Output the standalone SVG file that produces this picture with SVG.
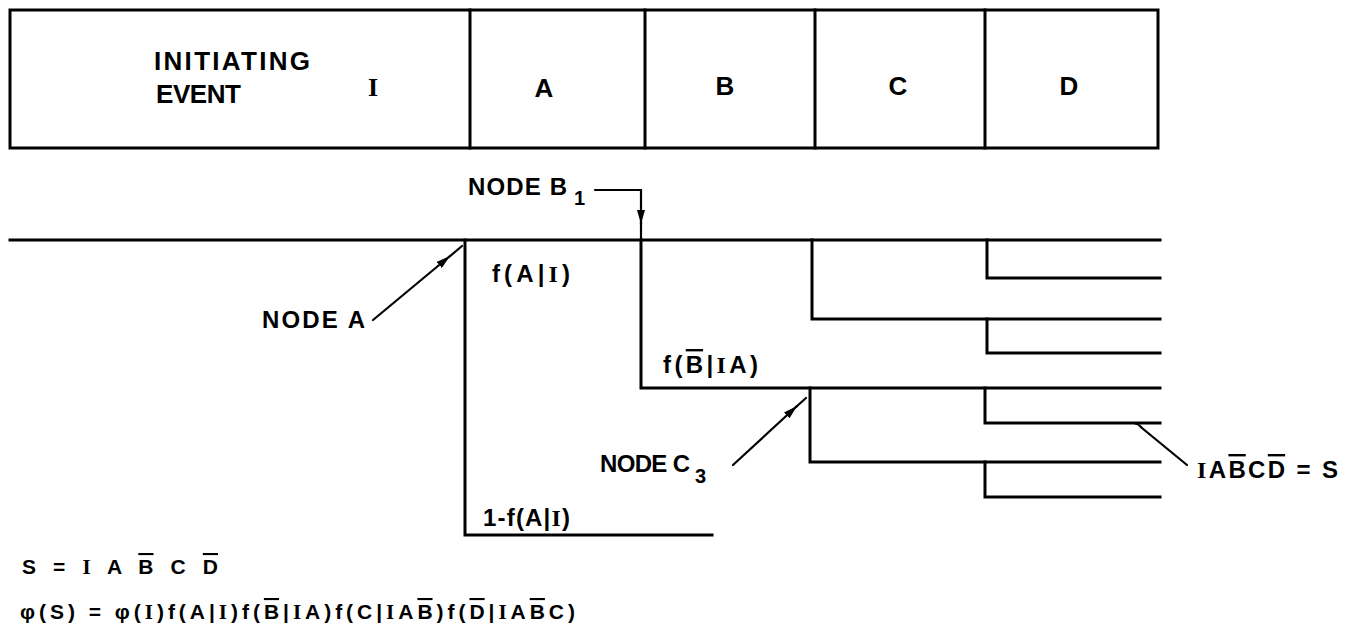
<svg xmlns="http://www.w3.org/2000/svg" width="1358" height="643" viewBox="0 0 1358 643">
<defs>
<style>
text{font-family:"Liberation Sans",Arial,sans-serif;font-weight:bold;fill:#000}
.h{font-size:26px}
.n{font-size:24px}
.sub{font-size:20px}
.f{font-size:24px}
.eq1{font-size:21px}
.eq{font-size:21px}
.ser{font-family:"Liberation Serif","Times New Roman",serif}
.ov{text-decoration:overline}
.ln{fill:none;stroke:#000;stroke-width:3;stroke-linecap:square;stroke-linejoin:miter}
.ld{fill:none;stroke:#000;stroke-width:2.2;stroke-linecap:round}
</style>
<marker id="ah" viewBox="0 0 14 8" refX="14" refY="4" markerWidth="14" markerHeight="8" orient="auto" markerUnits="userSpaceOnUse">
<path d="M0,0 L14,4 L0,8 z" fill="#000"/>
</marker>
</defs>
<rect width="1358" height="643" fill="#fff"/>

<g id="header">
<rect class="ln" x="10" y="10" width="1148" height="138"/>
<path class="ln" d="M470,10 V148 M645,10 V148 M815,10 V148 M985,10 V148"/>
<text class="h" x="154" y="70" textLength="156" lengthAdjust="spacing">INITIATING</text>
<text class="h" x="156" y="103" textLength="85" lengthAdjust="spacing">EVENT</text>
<text class="h ser" x="373" y="96" text-anchor="middle" font-size="29">I</text>
<text class="h" x="544" y="97" text-anchor="middle">A</text>
<text class="h" x="725" y="95" text-anchor="middle">B</text>
<text class="h" x="898" y="95" text-anchor="middle">C</text>
<text class="h" x="1069" y="95" text-anchor="middle">D</text>
</g>

<g id="connectors">
<path class="ln" d="M10,240 H1160"/>
<path class="ln" d="M465,240 V535 H712"/>
<path class="ln" d="M641,240 V388 H1160"/>
<path class="ln" d="M812,240 V319 H1160"/>
<path class="ln" d="M987,240 V278 H1160"/>
<path class="ln" d="M987,319 V353 H1160"/>
<path class="ln" d="M810,388 V462 H1160"/>
<path class="ln" d="M985,388 V423 H1160"/>
<path class="ln" d="M985,462 V497 H1160"/>
</g>

<g id="node-a">
<text class="n" x="262" y="328" textLength="103" lengthAdjust="spacing">NODE A</text>
<path class="ld" d="M373,320 L450,256" marker-end="url(#ah)"/>
<path class="ld" d="M449,257 L462,246"/>
</g>

<g id="node-b1">
<text class="n" x="468" y="195" textLength="99" lengthAdjust="spacing">NODE B</text>
<text class="sub" x="574" y="205">1</text>
<path class="ld" d="M595,190 H641 V224" marker-end="url(#ah)"/>
<path class="ld" d="M641,222 V240"/>
</g>

<g id="node-c3">
<text class="n" x="600" y="472" textLength="90" lengthAdjust="spacing">NODE C</text>
<text class="sub" x="695" y="483">3</text>
<path class="ld" d="M733,465 L797,406" marker-end="url(#ah)"/>
<path class="ld" d="M796,407 L806,398"/>
</g>

<g id="labels">
<text class="f" x="492" y="282" textLength="78" lengthAdjust="spacing">f(A|<tspan class="ser">I</tspan>)</text>
<text class="f" x="663" y="373" textLength="95" lengthAdjust="spacing">f(<tspan class="ov">B</tspan>|<tspan class="ser">I</tspan>A)</text>
<text class="f" x="483" y="526" textLength="87" lengthAdjust="spacing">1-f(A|<tspan class="ser">I</tspan>)</text>
</g>

<g id="sequence-s">
<path class="ld" d="M1187,465 L1142,428 Q1139,424 1134,423"/>
<text class="f" x="1197" y="478" font-size="25" textLength="141" lengthAdjust="spacing"><tspan class="ser">I</tspan>A<tspan class="ov">B</tspan>C<tspan class="ov">D</tspan> = S</text>
</g>

<g id="formulas">
<text class="eq1" x="22" y="574" textLength="196" lengthAdjust="spacing">S = <tspan class="ser">I</tspan> A <tspan class="ov">B</tspan> C <tspan class="ov">D</tspan></text>
<text class="eq" x="20" y="619" textLength="555" lengthAdjust="spacing">φ(S) = φ(<tspan class="ser">I</tspan>)f(A|<tspan class="ser">I</tspan>)f(<tspan class="ov">B</tspan>|<tspan class="ser">I</tspan>A)f(C|<tspan class="ser">I</tspan>A<tspan class="ov">B</tspan>)f(<tspan class="ov">D</tspan>|<tspan class="ser">I</tspan>A<tspan class="ov">B</tspan>C)</text>
</g>
</svg>
